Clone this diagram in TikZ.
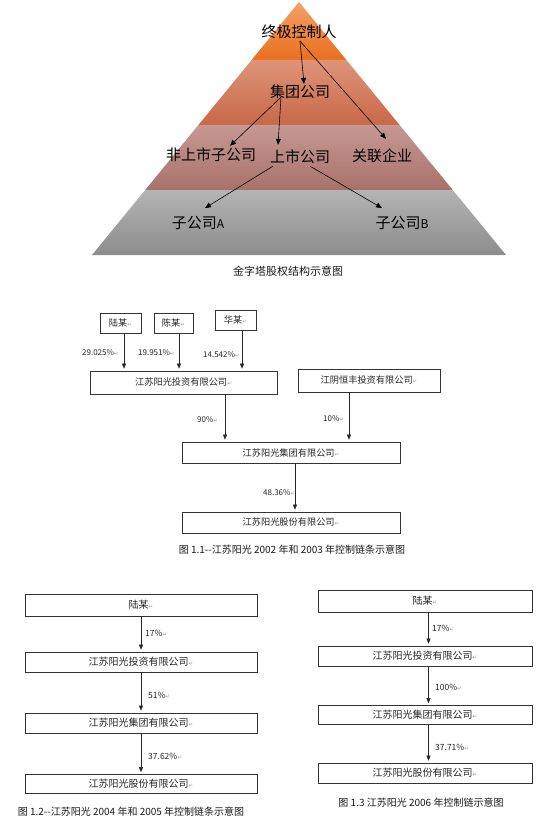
\documentclass[tikz,border=0pt]{standalone}
\usepackage{fontspec}
\setmainfont{Noto Sans CJK SC}
\newfontfamily\symf{DejaVu Sans}
\usetikzlibrary{arrows.meta,calc}

% paragraph mark as printed in the source
\newcommand{\pmark}{\textcolor{black!40}{\symf\fontsize{5.5pt}{5.5pt}\selectfont ↵}}

\tikzset{
  ptext/.style={font=\fontsize{15pt}{15pt}\selectfont, inner sep=1pt},
  parr/.style={-{Triangle[length=6pt,width=5pt]}, line width=0.6pt},
  box/.style={draw=black!80, line width=0.6pt, fill=white, inner sep=0pt, text=black!85, font=\fontsize{9.2pt}{9.2pt}\selectfont},
  bbox/.style={box, font=\fontsize{10pt}{10pt}\selectfont},
  pct/.style={inner sep=0pt, anchor=west, text=black!85, font=\fontsize{8pt}{8pt}\selectfont},
  arr/.style={-{Triangle[length=5pt,width=4pt]}, line width=0.5pt, draw=black!85, shorten >=2pt},
  captext/.style={inner sep=0pt, text=black!90, font=\fontsize{10pt}{10pt}\selectfont},
}

\begin{document}
\begin{tikzpicture}[x=1pt,y=1pt,yscale=-1]
\useasboundingbox (0,0) rectangle (552,821);

%Pyramid bands
\shade[top color={rgb,255:red,245;green,160;blue,104}, bottom color={rgb,255:red,232;green,112;blue,28}] (299,2) -- (346.4,60) -- (251.6,60) -- cycle;
\shade[top color={rgb,255:red,222;green,148;blue,122}, bottom color={rgb,255:red,200;green,104;blue,72}] (251.6,60) -- (346.4,60) -- (399.6,125) -- (198.4,125) -- cycle;
\shade[top color={rgb,255:red,198;green,152;blue,146}, bottom color={rgb,255:red,168;green,114;blue,108}] (198.4,125) -- (399.6,125) -- (452.8,190) -- (145.2,190) -- cycle;
\shade[top color={rgb,255:red,180;green,180;blue,180}, bottom color={rgb,255:red,140;green,140;blue,140}] (145.2,190) -- (452.8,190) -- (506,255) -- (92,255) -- cycle;

% Pyramid texts
\node[ptext] (ctrl) at (299,32) {终极控制人};
\node[ptext] (grp) at (300,92) {集团公司};
\node[ptext] (unl) at (211,155) {非上市子公司};
\node[ptext] (lst) at (300,157) {上市公司};
\node[ptext] (rel) at (382,156) {关联企业};
\node[ptext] (suba) at (198,223) {子公司{\fontsize{12pt}{12pt}\selectfont A}};
\node[ptext] (subb) at (402,223) {子公司{\fontsize{12pt}{12pt}\selectfont B}};
\node[captext, font=\fontsize{11pt}{11pt}\selectfont] (pcap) at (288,271) {金字塔股权结构示意图};

% Pyramid arrows
\draw[parr] ($(ctrl.south)+(1,1)$) -- ($(grp.north)+(4,0)$);
\draw[parr] ($(ctrl.south)+(1,1)$) -- ($(rel.north)+(4,-9)$);
\draw[parr] ($(grp.south)+(-19,-3)$) -- ($(unl.north)+(19,-1)$);
\draw[parr] ($(grp.south)+(-19,-3)$) -- ($(lst.north)+(-22,-4)$);
\draw[parr] ($(lst.south)+(-27,1)$) -- ($(suba.north)+(7,-7)$);
\draw[parr] ($(lst.south)+(10,1)$) -- ($(subb.north)+(-20,-7)$);

% Chain 2002-2003
\node[box, minimum width=41pt, minimum height=20pt] (lu) at (120.5,323) {陆某\pmark};
\node[box, minimum width=39pt, minimum height=20pt] (chen) at (173.5,323) {陈某\pmark};
\node[box, minimum width=41pt, minimum height=20pt] (hua) at (235.5,320) {华某\pmark};
\node[box, minimum width=187pt, minimum height=23pt] (inv) at (183.5,382.5) {江苏阳光投资有限公司\pmark};
\node[box, minimum width=142pt, minimum height=23pt] (hf) at (369,380.5) {江阴恒丰投资有限公司\pmark};
\node[box, minimum width=218pt, minimum height=21pt] (grpa) at (291,452.5) {江苏阳光集团有限公司\pmark};
\node[box, minimum width=218pt, minimum height=21pt] (shra) at (291,522.5) {江苏阳光股份有限公司\pmark};

\node[pct] (p1) at (82,353) {29.025\%\pmark};
\node[pct] (p2) at (138,353) {19.951\%\pmark};
\node[pct] (p3) at (203,355) {14.542\%\pmark};
\node[pct] (p4) at (197,420) {90\%\pmark};
\node[pct] (p5) at (323,419) {10\%\pmark};
\node[pct] (p6) at (263,493) {48.36\%\pmark};

\draw[arr] ([xshift=3.5pt]lu.south) -- ([xshift=3.5pt]lu.south |- inv.north);
\draw[arr] ([xshift=5.5pt]chen.south) -- ([xshift=5.5pt]chen.south |- inv.north);
\draw[arr] ([xshift=6.5pt]hua.south) -- ([xshift=6.5pt]hua.south |- inv.north);
\draw[arr] ([xshift=41.5pt]inv.south) -- ([xshift=41.5pt]inv.south |- grpa.north);
\draw[arr] ([xshift=-20pt]hf.south) -- ([xshift=-20pt]hf.south |- grpa.north);
\draw[arr] ([xshift=4pt]grpa.south) -- ([xshift=4pt]shra.north);

\node[captext] (cap1) at (292,550) {图 1.1-{}-江苏阳光 2002 年和 2003 年控制链条示意图};

% Chain 2004-2005
\node[bbox, minimum width=232pt, minimum height=22pt] (la) at (141,605) {陆某\pmark};
\node[bbox, minimum width=232pt, minimum height=20pt] (ia) at (141,662) {江苏阳光投资有限公司\pmark};
\node[bbox, minimum width=232pt, minimum height=20pt] (ga) at (141,723) {江苏阳光集团有限公司\pmark};
\node[bbox, minimum width=232pt, minimum height=19pt] (sa) at (141,784) {江苏阳光股份有限公司\pmark};

\node[pct, font=\fontsize{8.5pt}{8.5pt}\selectfont] (q1) at (145,633) {17\%\pmark};
\node[pct, font=\fontsize{8.5pt}{8.5pt}\selectfont] (q2) at (148,695) {51\%\pmark};
\node[pct, font=\fontsize{8.5pt}{8.5pt}\selectfont] (q3) at (148,756) {37.62\%\pmark};

\draw[arr] (la) -- (ia);
\draw[arr] (ia) -- (ga);
\draw[arr] (ga) -- (sa);

\node[captext] (cap2) at (131,812) {图 1.2-{}-江苏阳光 2004 年和 2005 年控制链条示意图};

% Chain 2006
\node[bbox, minimum width=214pt, minimum height=22pt] (lb) at (425,601) {陆某\pmark};
\node[bbox, minimum width=214pt, minimum height=20pt] (ib) at (425,656) {江苏阳光投资有限公司\pmark};
\node[bbox, minimum width=214pt, minimum height=19pt] (gb) at (425,715) {江苏阳光集团有限公司\pmark};
\node[bbox, minimum width=214pt, minimum height=20pt] (sb) at (425,773) {江苏阳光股份有限公司\pmark};

\node[pct, font=\fontsize{8.5pt}{8.5pt}\selectfont] (r1) at (432,628) {17\%\pmark};
\node[pct, font=\fontsize{8.5pt}{8.5pt}\selectfont] (r2) at (435,687) {100\%\pmark};
\node[pct, font=\fontsize{8.5pt}{8.5pt}\selectfont] (r3) at (435,747) {37.71\%\pmark};

\draw[arr] ([xshift=3.5pt]lb.south) -- ([xshift=3.5pt]ib.north);
\draw[arr] ([xshift=3.5pt]ib.south) -- ([xshift=3.5pt]gb.north);
\draw[arr] ([xshift=3.5pt]gb.south) -- ([xshift=3.5pt]sb.north);

\node[captext] (cap3) at (421,803) {图 1.3 江苏阳光 2006 年控制链示意图};
\end{tikzpicture}
\end{document}
